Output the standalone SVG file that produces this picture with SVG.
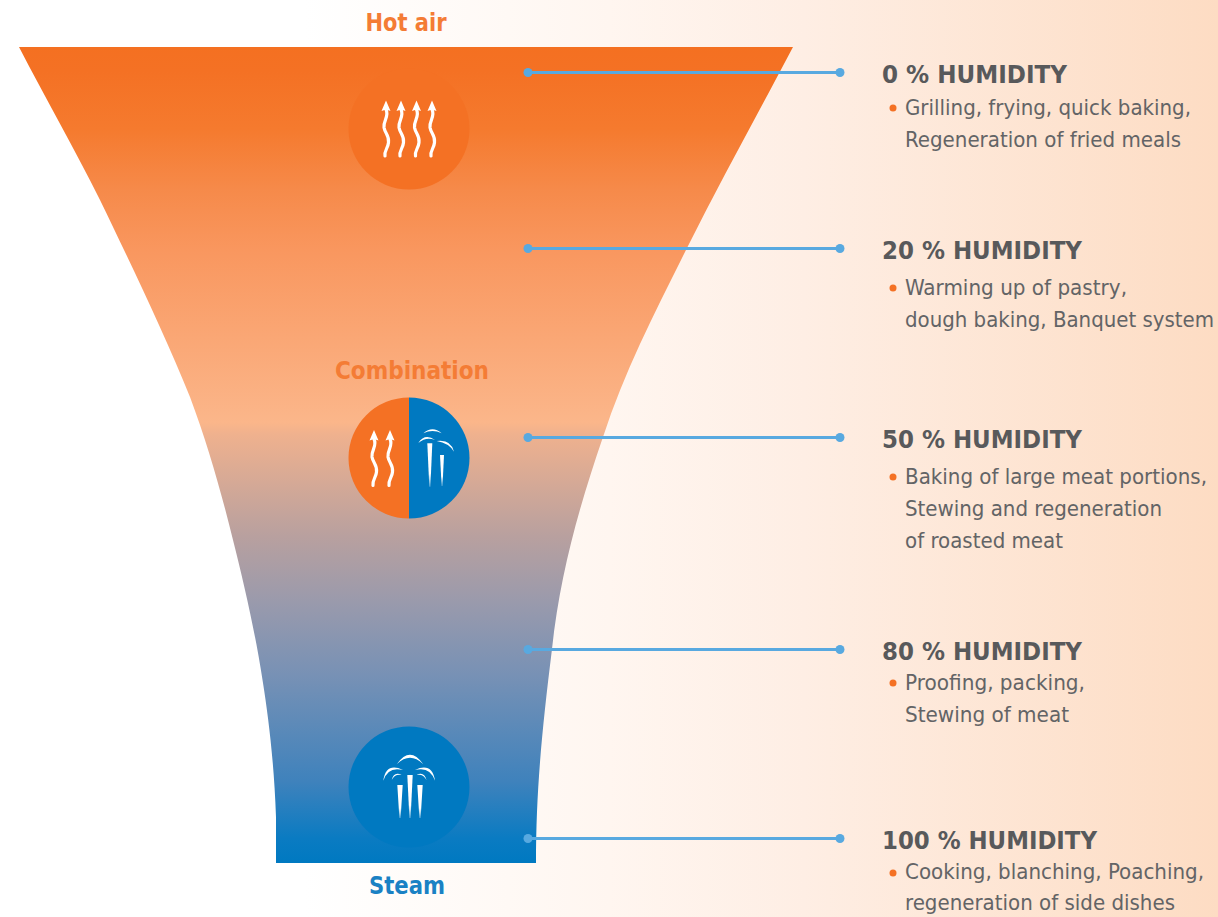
<svg xmlns="http://www.w3.org/2000/svg" width="1218" height="917" viewBox="0 0 1218 917">
<style>
.h{font-family:"DejaVu Sans Condensed","DejaVu Sans","Liberation Sans",sans-serif;font-weight:700;font-size:24px;fill:#58595b}
.t{font-family:"DejaVu Sans Condensed","DejaVu Sans","Liberation Sans",sans-serif;font-size:22px;fill:#636466}
.l{font-family:"DejaVu Sans Condensed","DejaVu Sans","Liberation Sans",sans-serif;font-weight:700;font-size:24px;text-anchor:middle}
.c{stroke:#58a9e0;stroke-width:3;fill:none}
.d{fill:#58a9e0}
.b{fill:#f47124}
.w{fill:none;stroke:#fff;stroke-width:3.200;stroke-linecap:round}
.a{fill:#fff}
</style>
<defs>
<linearGradient id="bg" x1="0" x2="1" y1="0" y2="0"><stop offset="0" stop-color="#fff"/><stop offset=".25" stop-color="#fff"/><stop offset=".5" stop-color="#fff6f0"/><stop offset=".66" stop-color="#feeee4"/><stop offset="1" stop-color="#fddcc3"/></linearGradient>
<linearGradient id="f" gradientUnits="userSpaceOnUse" x1="0" y1="47" x2="0" y2="863">
<stop offset="0" stop-color="#f47021"/><stop offset=".03" stop-color="#f47124"/><stop offset=".1" stop-color="#f57a2e"/><stop offset=".175" stop-color="#f68a4a"/><stop offset=".25" stop-color="#f9975f"/><stop offset=".46" stop-color="#fbb68a"/><stop offset=".475" stop-color="#efb18e"/><stop offset=".6" stop-color="#b8a09f"/><stop offset=".68" stop-color="#9a9aac"/><stop offset=".77" stop-color="#7791b5"/><stop offset=".9" stop-color="#3f82bc"/><stop offset=".97" stop-color="#0a7bc2"/><stop offset="1" stop-color="#0079c1"/></linearGradient>
<linearGradient id="j" x1="0" x2="0" y1="0" y2="1"><stop offset="0" stop-color="#fff"/><stop offset=".7" stop-color="#fff"/><stop offset="1" stop-color="#fff" stop-opacity=".35"/></linearGradient>
<g id="wave"><path class="w" d="M0 -6C3.500 1 -3 5 -2 12C-1 18 3.500 20 2.500 27C2 33 -2 35 -1 40.500"/><path class="a" d="M0 -15L4.500 -4.500L1.500 -5.500H-1.500L-4.500 -4.500Z"/></g>
<path id="jet" fill="url(#j)" d="M-2.700 0H2.700L.6 33H-.6Z"/>
</defs>
<rect width="1218" height="917" fill="url(#bg)"/>
<g id="funnel"><path d="M19 47H793C760 110 722 178 687 248C655 312 625 370 603 437C578 510 560 575 552 649C542 730 536 790 536 863H276V817C274 760 268 715 263 683C255 630 243 580 233 540C222 495 208 445 190 397C165 335 130 262 100 200C75 150 45 97 19 47Z" fill="url(#f)"/></g>
<g id="hot-air"><text class="l" x="406" y="30.500" fill="#f47c35" textLength="81" lengthAdjust="spacingAndGlyphs">Hot air</text>
<circle cx="409" cy="129" r="60.500" fill="#f47124"/>
<use href="#wave" x="386" y="115.500"/><use href="#wave" x="401" y="115.500"/><use href="#wave" x="416.500" y="115.500"/><use href="#wave" x="432" y="115.500"/></g>
<g id="combination"><text class="l" x="412" y="379" fill="#f47c35" textLength="154" lengthAdjust="spacingAndGlyphs">Combination</text>
<path d="M409 397.500A60.500 60.500 0 0 0 409 518.500Z" fill="#f47124"/><path d="M409 397.500A60.500 60.500 0 0 1 409 518.500Z" fill="#0079c1"/>
<use href="#wave" x="374" y="445"/><use href="#wave" x="390" y="445"/>
<g class="a"><path d="M423.300 433.300Q432.500 425 441.700 433.300Q432.500 428.500 423.300 433.300Z"/><path d="M418.300 443Q425 433 435 440Q426 436.500 418.300 443Z"/><path d="M436.700 441Q451 439 454 451.700Q449 443 436.700 441Z"/></g>
<path fill="url(#j)" d="M427.300 443.300H432.300L430.400 486.700H429.300Z"/><path fill="url(#j)" d="M440 455H444L442.500 486H441.600Z"/></g>
<g id="steam"><text class="l" x="407" y="894" fill="#1a81c4" textLength="76" lengthAdjust="spacingAndGlyphs">Steam</text>
<circle cx="409" cy="787" r="60.500" fill="#0079c1"/>
<g class="a"><path d="M396.700 764.300Q410 745 423.300 764.300Q410 751 396.700 764.300Z"/><path d="M383.300 780.700Q386 762 403 770Q388 766 383.300 780.700Z"/><path d="M415 770Q432 762 435 780.700Q430 766 415 770Z"/><path d="M391.700 780Q394 771 401.700 775Q395 773.500 391.700 780Z"/><path d="M416.500 775Q424 771 426.500 780Q423 773.500 416.500 775Z"/></g>
<use href="#jet" x="400" y="785"/><path fill="url(#j)" d="M407.300 775H412.700L410.600 818H409.400Z"/><use href="#jet" x="420" y="785"/></g>
<g id="connectors">
<path class="c" d="M528 72.500H840M528 248.500H840M528 437.500H840M528 649.500H840M528 838.500H840"/>
<g class="d"><circle cx="528" cy="72.500" r="4.500"/><circle cx="840" cy="72.500" r="4.500"/><circle cx="528" cy="248.500" r="4.500"/><circle cx="840" cy="248.500" r="4.500"/><circle cx="528" cy="437.500" r="4.500"/><circle cx="840" cy="437.500" r="4.500"/><circle cx="528" cy="649.500" r="4.500"/><circle cx="840" cy="649.500" r="4.500"/><circle cx="528" cy="838.500" r="4.500"/><circle cx="840" cy="838.500" r="4.500"/></g>
</g>
<g id="h0"><text class="h" x="882" y="83" textLength="185" lengthAdjust="spacingAndGlyphs">0 % HUMIDITY</text><circle class="b" cx="893" cy="108" r="3.500"/>
<text class="t" x="905" y="115" textLength="286" lengthAdjust="spacingAndGlyphs">Grilling, frying, quick baking,</text><text class="t" x="905" y="147" textLength="276" lengthAdjust="spacingAndGlyphs">Regeneration of fried meals</text></g>
<g id="h20"><text class="h" x="882" y="259" textLength="200" lengthAdjust="spacingAndGlyphs">20 % HUMIDITY</text><circle class="b" cx="893" cy="288" r="3.500"/>
<text class="t" x="905" y="295" textLength="222" lengthAdjust="spacingAndGlyphs">Warming up of pastry,</text><text class="t" x="905" y="327" textLength="309" lengthAdjust="spacingAndGlyphs">dough baking, Banquet system</text></g>
<g id="h50"><text class="h" x="882" y="448" textLength="200" lengthAdjust="spacingAndGlyphs">50 % HUMIDITY</text><circle class="b" cx="893" cy="477" r="3.500"/>
<text class="t" x="905" y="484" textLength="302" lengthAdjust="spacingAndGlyphs">Baking of large meat portions,</text><text class="t" x="905" y="516" textLength="257" lengthAdjust="spacingAndGlyphs">Stewing and regeneration</text><text class="t" x="905" y="548" textLength="158" lengthAdjust="spacingAndGlyphs">of roasted meat</text></g>
<g id="h80"><text class="h" x="882" y="660" textLength="200" lengthAdjust="spacingAndGlyphs">80 % HUMIDITY</text><circle class="b" cx="893" cy="683" r="3.500"/>
<text class="t" x="905" y="690" textLength="180" lengthAdjust="spacingAndGlyphs">Proofing, packing,</text><text class="t" x="905" y="722" textLength="164" lengthAdjust="spacingAndGlyphs">Stewing of meat</text></g>
<g id="h100"><text class="h" x="882" y="849" textLength="215" lengthAdjust="spacingAndGlyphs">100 % HUMIDITY</text><circle class="b" cx="893" cy="873" r="3.500"/>
<text class="t" x="905" y="879" textLength="299" lengthAdjust="spacingAndGlyphs">Cooking, blanching, Poaching,</text><text class="t" x="905" y="910" textLength="270" lengthAdjust="spacingAndGlyphs">regeneration of side dishes</text></g>
</svg>
